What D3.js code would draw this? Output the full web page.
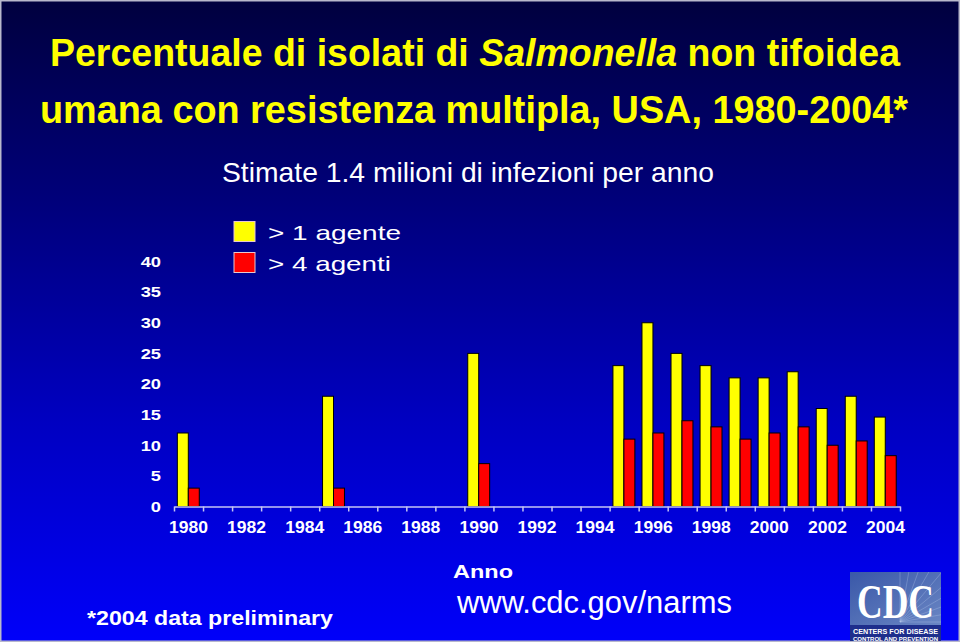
<!DOCTYPE html>
<html>
<head>
<meta charset="utf-8">
<script src="https://cdn.jsdelivr.net/npm/d3@7"></script>
<style>
  html, body { margin: 0; padding: 0; background: #000; }
  svg { display: block; }
</style>
</head>
<body>
<svg id="chart" width="960" height="642"></svg>
<script>
// ---- data ----
const years = [1980, 1981, 1982, 1983, 1984, 1985, 1986, 1987, 1988, 1989,
               1990, 1991, 1992, 1993, 1994, 1995, 1996, 1997, 1998, 1999,
               2000, 2001, 2002, 2003, 2004];
const moreThan1 = [12, null, null, null, null, 18, null, null, null, null,
                   25, null, null, null, null, 23, 30, 25, 23, 21,
                   21, 22, 16, 18, 14.6];
const moreThan4 = [3, null, null, null, null, 3, null, null, null, null,
                   7, null, null, null, null, 11, 12, 14, 13, 11,
                   12, 13, 10, 10.7, 8.3];
const seriesNames = ["> 1 agente", "> 4 agenti"];
const seriesColors = ["#ffff00", "#ff0000"];
const yTicks = [0, 5, 10, 15, 20, 25, 30, 35, 40];
const xTickLabels = [1980, 1982, 1984, 1986, 1988, 1990, 1992, 1994, 1996, 1998, 2000, 2002, 2004];

// ---- setup ----
const svg = d3.select("#chart");
const W = 960, H = 642;
const defs = svg.append("defs");
const bg = defs.append("linearGradient").attr("id", "bg").attr("x1", 0).attr("y1", 0).attr("x2", 0).attr("y2", 1);
bg.append("stop").attr("offset", "0%").attr("stop-color", "#00003e");
bg.append("stop").attr("offset", "30%").attr("stop-color", "#000078");
bg.append("stop").attr("offset", "65%").attr("stop-color", "#0000c0");
bg.append("stop").attr("offset", "100%").attr("stop-color", "#0000fa");

svg.append("rect").attr("width", W).attr("height", H).attr("fill", "url(#bg)");
svg.append("rect").attr("x", 0.75).attr("y", 0.75).attr("width", W - 1.5).attr("height", H - 1.5)
  .attr("fill", "none").attr("stroke", "#b8b8cc").attr("stroke-width", 1.5);

function fit(sel, len) {
  sel.attr("textLength", len).attr("lengthAdjust", "spacingAndGlyphs");
}

const sans = "'Liberation Sans',Arial,Helvetica,sans-serif";

// ---- titles ----
const t1 = svg.append("text").attr("x", 50).attr("y", 66)
  .attr("font-family", sans).attr("font-weight", "bold").attr("font-size", 39)
  .attr("fill", "#ffff00");
t1.append("tspan").text("Percentuale di isolati di ");
t1.append("tspan").attr("font-style", "italic").text("Salmonella");
t1.append("tspan").text(" non tifoidea");
fit(t1, 850);

const t2 = svg.append("text").attr("x", 40).attr("y", 123)
  .attr("font-family", sans).attr("font-weight", "bold").attr("font-size", 39)
  .attr("fill", "#ffff00").text("umana con resistenza multipla, USA, 1980-2004*");
fit(t2, 868);

const sub = svg.append("text").attr("x", 222).attr("y", 182)
  .attr("font-family", sans).attr("font-size", 28)
  .attr("fill", "#ffffff").text("Stimate 1.4 milioni di infezioni per anno");
fit(sub, 492);

// ---- scales ----
const x = d3.scaleBand().domain(years).range([174, 900]).padding(0);
const xInner = d3.scaleBand().domain([0, 1]).range([x.bandwidth() * 0.115, x.bandwidth() * 0.87]);
const xLin = d3.scaleLinear().domain([1980, 2005]).range([174, 900]);
const y = d3.scaleLinear().domain([0, 40]).range([506.5, 261.5]);

// ---- bars ----
const seriesData = [moreThan1, moreThan4];
const bars = [];
years.forEach((yr, i) => {
  seriesData.forEach((s, k) => {
    if (s[i] != null) bars.push({ yr, k, v: s[i] });
  });
});
svg.append("g").selectAll("rect").data(bars).join("rect")
  .attr("x", d => x(d.yr) + xInner(d.k))
  .attr("width", xInner.bandwidth())
  .attr("y", d => y(d.v))
  .attr("height", d => y(0) - y(d.v))
  .attr("fill", d => seriesColors[d.k])
  .attr("stroke", "#000")
  .attr("stroke-width", 1);

// ---- x axis ----
const axisColor = "#c4c4f4";
const gx = svg.append("g").attr("transform", `translate(0,${y(0)})`)
  .call(d3.axisBottom(xLin).tickValues(d3.range(1980, 2006)).tickFormat("").tickSize(5).tickSizeOuter(0));
gx.selectAll("path, line").attr("stroke", axisColor).attr("stroke-width", 1.5);

const gxl = svg.append("g").attr("transform", `translate(0,${y(0)})`)
  .call(d3.axisBottom(x).tickValues(xTickLabels).tickSize(0).tickPadding(22));
gxl.select(".domain").remove();
gxl.selectAll("text").attr("fill", "#fff").attr("font-family", sans)
  .attr("font-weight", "bold").attr("font-size", 16.5).attr("dy", "0.25em")
  .attr("textLength", 39).attr("lengthAdjust", "spacingAndGlyphs");

// ---- y axis ----
const gy = svg.append("g").attr("transform", "translate(161,0)")
  .call(d3.axisLeft(y).tickValues(yTicks).tickSize(0).tickPadding(0));
gy.select(".domain").remove();
gy.selectAll("text").attr("fill", "#fff").attr("font-family", sans)
  .attr("font-weight", "bold").attr("font-size", 15)
  .each(function () {
    const l = this.getComputedTextLength();
    d3.select(this).attr("textLength", l * 1.22).attr("lengthAdjust", "spacingAndGlyphs");
  });

// ---- legend ----
const legendY = [221.5, 252.5];
const legendTextW = [133, 123];
const lg = svg.append("g");
seriesNames.forEach((name, k) => {
  lg.append("rect").attr("x", 234).attr("y", legendY[k]).attr("width", 21).attr("height", 20)
    .attr("fill", seriesColors[k]).attr("stroke", "#e8c8d0").attr("stroke-width", 1);
  const t = lg.append("text").attr("x", 268).attr("y", legendY[k] + 18)
    .attr("font-family", sans).attr("font-size", 21)
    .attr("fill", "#fff").text(name);
  fit(t, legendTextW[k]);
});

// ---- bottom texts ----
const anno = svg.append("text").attr("x", 453).attr("y", 578)
  .attr("font-family", sans).attr("font-weight", "bold").attr("font-size", 19)
  .attr("fill", "#fff").text("Anno");
fit(anno, 60);

const note = svg.append("text").attr("x", 87).attr("y", 625)
  .attr("font-family", sans).attr("font-weight", "bold").attr("font-size", 21)
  .attr("fill", "#fff").text("*2004 data preliminary");
fit(note, 246);

const url = svg.append("text").attr("x", 457).attr("y", 613)
  .attr("font-family", sans).attr("font-size", 31)
  .attr("fill", "#fff").text("www.cdc.gov/narms");
fit(url, 275);

// ---- CDC logo ----
const lgd = defs.append("linearGradient").attr("id", "cdcg").attr("x1", 0).attr("y1", 0).attr("x2", 1).attr("y2", 1);
lgd.append("stop").attr("offset", "0%").attr("stop-color", "#3a58a8");
lgd.append("stop").attr("offset", "100%").attr("stop-color", "#6a86c4");
defs.append("clipPath").attr("id", "logoclip")
  .append("rect").attr("x", 850).attr("y", 572).attr("width", 91).attr("height", 53);
const logo = svg.append("g");
logo.append("rect").attr("x", 850).attr("y", 572).attr("width", 91).attr("height", 53).attr("fill", "url(#cdcg)");
const rays = logo.append("g").attr("clip-path", "url(#logoclip)");
for (let i = 0; i < 10; i++) {
  const a = -Math.PI / 2 + i * (Math.PI / 2) / 9;
  rays.append("line").attr("x1", 900).attr("y1", 622)
    .attr("x2", 900 + 70 * Math.cos(a)).attr("y2", 622 + 70 * Math.sin(a))
    .attr("stroke", "#b8c8ec").attr("stroke-opacity", 0.4).attr("stroke-width", 0.8);
}
logo.append("rect").attr("x", 850).attr("y", 625).attr("width", 91).attr("height", 16).attr("fill", "#1e2e8c");
const cdcT = logo.append("text").attr("x", 857).attr("y", 618)
  .attr("font-family", "'Liberation Serif','Times New Roman',serif").attr("font-weight", "bold")
  .attr("font-size", 48).attr("fill", "#fff").text("CDC");
fit(cdcT, 77);
const c1 = logo.append("text").attr("x", 853).attr("y", 633.5)
  .attr("font-family", sans).attr("font-weight", "bold")
  .attr("font-size", 6.5).attr("fill", "#fff").text("CENTERS FOR DISEASE");
fit(c1, 85);
const c2 = logo.append("text").attr("x", 853).attr("y", 640.5)
  .attr("font-family", sans).attr("font-weight", "bold")
  .attr("font-size", 6).attr("fill", "#fff").text("CONTROL AND PREVENTION");
fit(c2, 85);
</script>
</body>
</html>
